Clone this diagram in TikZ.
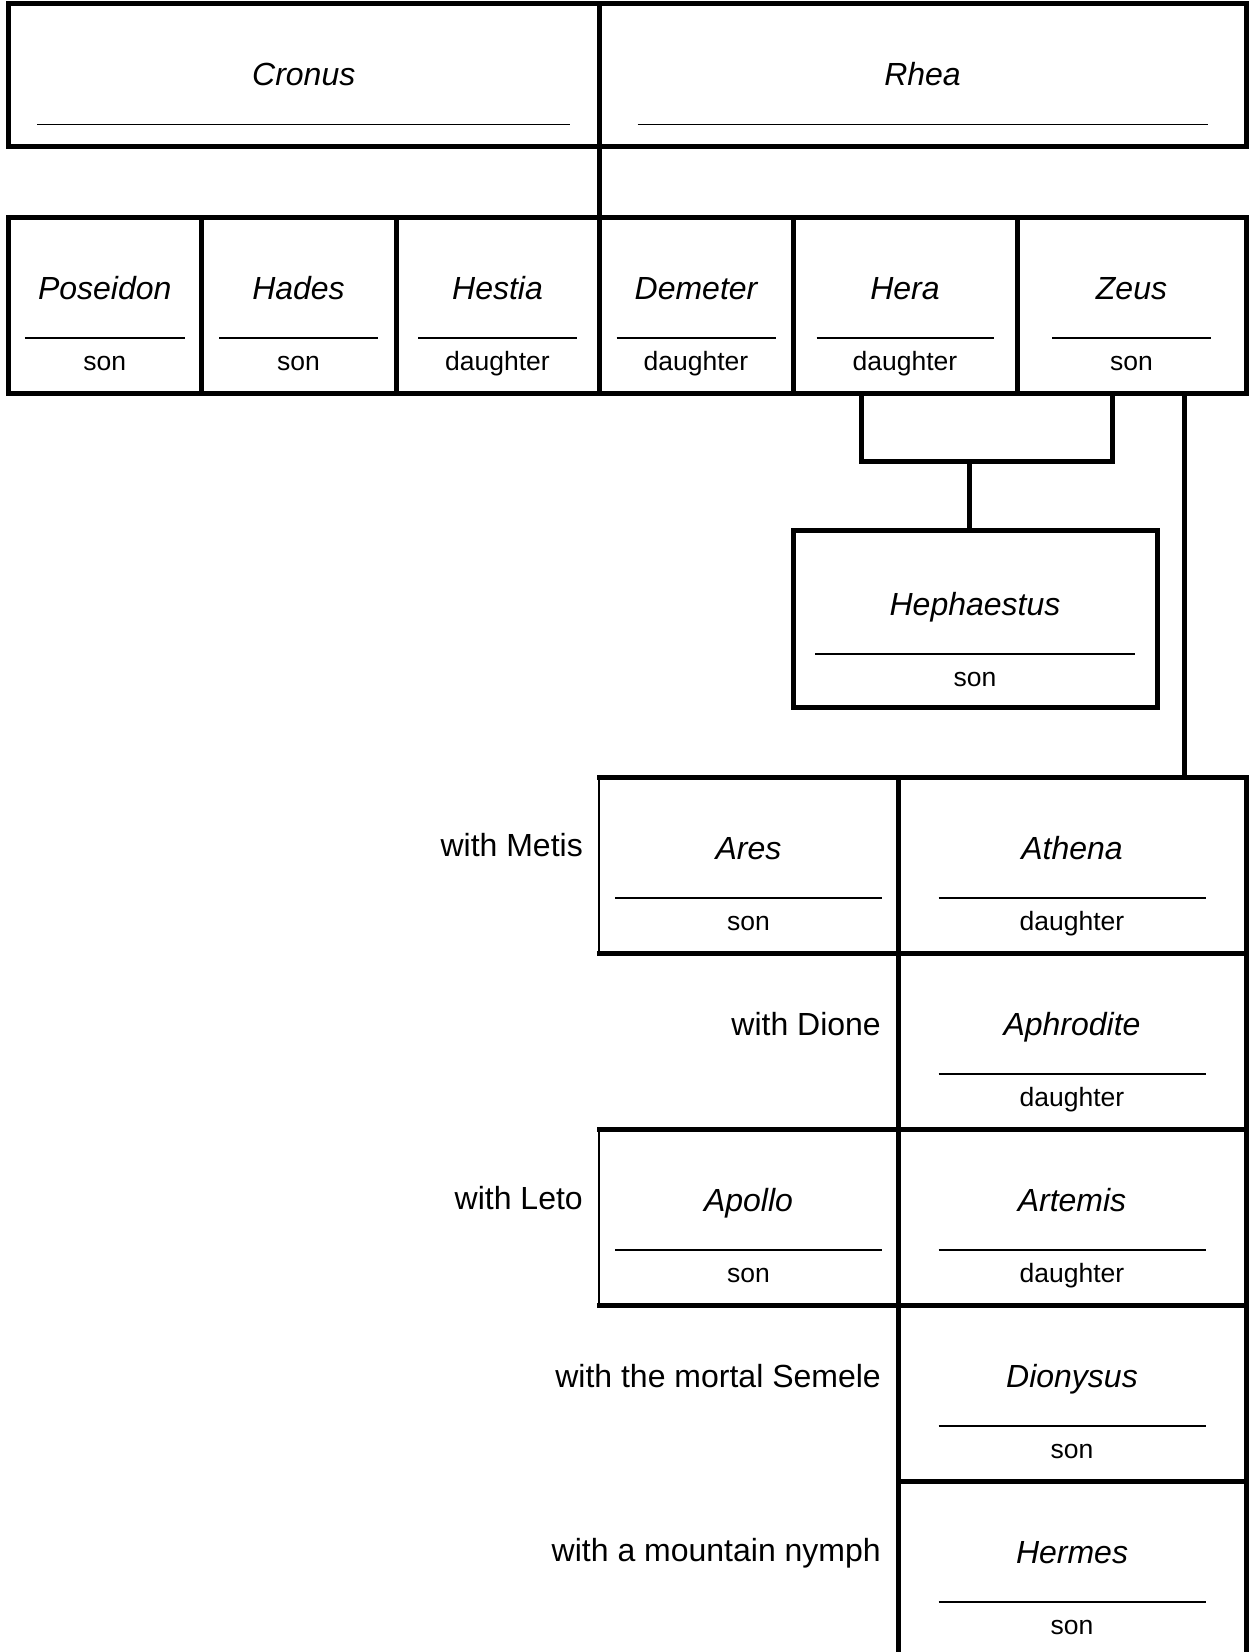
\documentclass[tikz,border=0pt]{standalone}
\usepackage{fontspec}
\setmainfont{Liberation Sans}
\newcommand\gnamefont{\fontsize{32}{38}\selectfont\itshape}
\newcommand\grolefont{\fontsize{26.5}{32}\selectfont}
\newcommand\glabelfont{\fontsize{32}{38}\selectfont}
\newcommand\gdown{0}
\tikzset{
  cellbox/.style={draw, line width=5pt, rectangle, inner sep=0pt, outer sep=0pt, anchor=north west},
  nametext/.style={anchor=base, inner sep=0pt, font=\gnamefont},
  roletext/.style={anchor=base, inner sep=0pt, font=\grolefont},
  withtext/.style={anchor=base east, inner sep=0pt, font=\glabelfont},
  ruleline/.style={line width=1.3pt},
  conn/.style={line width=5pt},
  thickedge/.style={line width=5pt, line cap=rect},
  thinedge/.style={line width=1.5pt},
}
\newcommand\pcell[9][]{%
  \node[cellbox, minimum width=#5, minimum height=#6, #1] (#2) at (#3,#4) {};
  \node[nametext] (#2-name) at ([yshift={-82-\gdown}]#2.north) {#8};
  \draw[ruleline] ([xshift={-0.5*#7}, yshift={-121-\gdown}]#2.north) -- ([xshift={0.5*#7}, yshift={-121-\gdown}]#2.north);
  \node[roletext] (#2-role) at ([yshift={-153-\gdown}]#2.north) {#9};
}
\begin{document}
\begin{tikzpicture}[x=1pt, y=-1pt]
\fill[white] (0,0) rectangle (1249,1652);
\useasboundingbox (0,0) rectangle (1249,1652);

% top row
\pcell{cronus}{8.5}{3.5}{590.5}{142.5}{533}{Cronus}{}
\pcell{rhea}{599}{3.5}{647}{142.5}{570}{Rhea}{}

% second row
\pcell{poseidon}{8.5}{217}{192.5}{176}{160}{Poseidon}{son}
\pcell{hades}{201}{217}{195}{176}{159}{Hades}{son}
\pcell{hestia}{396}{217}{203}{176}{159}{Hestia}{daughter}
\pcell{demeter}{599}{217}{194}{176}{159}{Demeter}{daughter}
\pcell{hera}{793}{217}{224}{176}{177}{Hera}{daughter}
\pcell{zeus}{1017}{217}{229}{176}{159}{Zeus}{son}

% Hephaestus
\renewcommand\gdown{3}
\pcell{heph}{793}{530}{364}{177}{320}{Hephaestus}{son}
\renewcommand\gdown{0}

% children of Zeus
\pcell[draw=none]{ares}{599}{777}{299}{176}{267}{Ares}{son}
\pcell{athena}{898}{777}{348}{176}{267}{Athena}{daughter}
\pcell{aphrodite}{898}{953}{348}{176}{267}{Aphrodite}{daughter}
\pcell[draw=none]{apollo}{599}{1129}{299}{176}{267}{Apollo}{son}
\pcell{artemis}{898}{1129}{348}{176}{267}{Artemis}{daughter}
\pcell{dionysus}{898}{1305}{348}{176}{267}{Dionysus}{son}
\pcell{hermes}{898}{1481}{348}{176}{267}{Hermes}{son}

% edges of Ares and Apollo (thin left side)
\draw[thinedge] (ares.north west) -- (ares.south west);
\draw[thickedge] (ares.north west) -- (ares.north east) -- (ares.south east) -- (ares.south west);
\draw[thinedge] (apollo.north west) -- (apollo.south west);
\draw[thickedge] (apollo.north west) -- (apollo.north east) -- (apollo.south east) -- (apollo.south west);

% labels
\node[withtext] (lmetis) at (583,856) {with Metis};
\node[withtext] (ldione) at (881,1035) {with Dione};
\node[withtext] (lleto) at (583,1209) {with Leto};
\node[withtext] (lsemele) at (881,1387) {with the mortal Semele};
\node[withtext] (lnymph) at (881,1561) {with a mountain nymph};

% connectors
\draw[conn] (cronus.south east) -- (demeter.north west);
\draw[conn] ([xshift=68pt]hera.south west) -- ++(0,68) coordinate (barl) -| ([xshift=95pt]zeus.south west);
\draw[conn] ([xshift=-6pt]heph.north) -- ([xshift=-6pt]heph.north |- barl);
\draw[conn] ([xshift=167pt]zeus.south west) -- ([xshift=167pt]zeus.south west |- athena.north);
\end{tikzpicture}
\end{document}
